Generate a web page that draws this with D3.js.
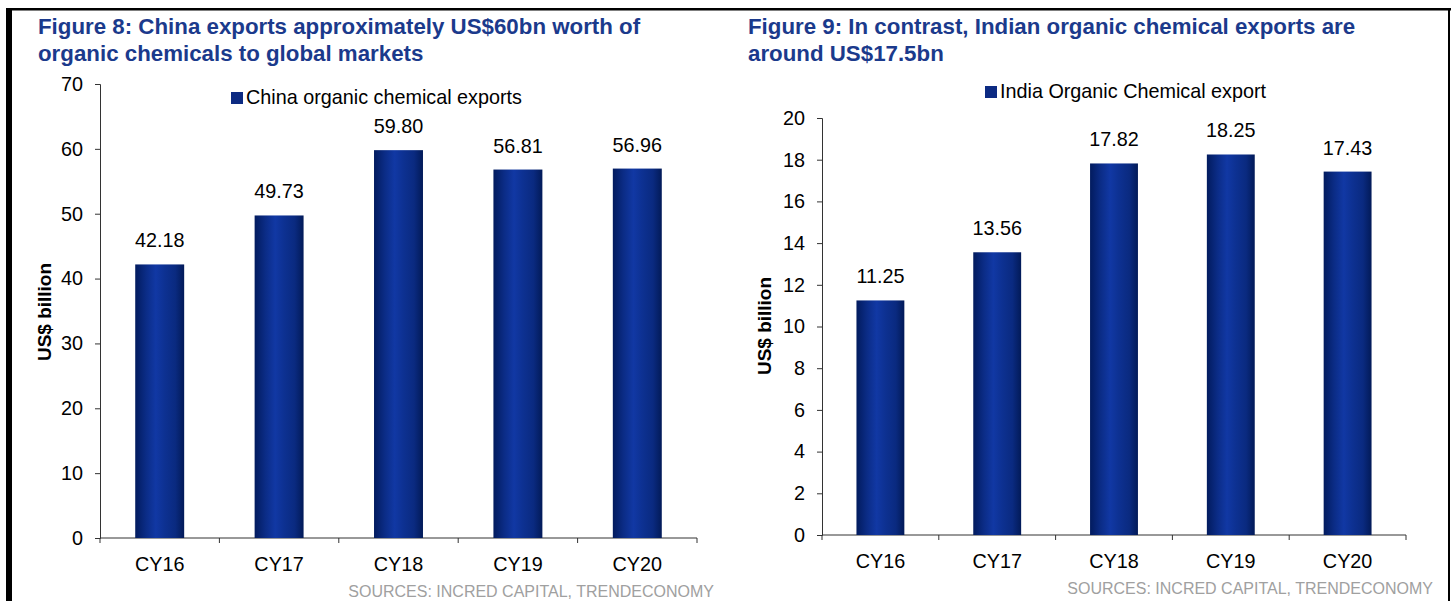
<!DOCTYPE html>
<html>
<head>
<meta charset="utf-8">
<script src="https://cdn.jsdelivr.net/npm/d3@7"></script>
<style>
  html, body { margin: 0; padding: 0; background: #fff; }
  svg { display: block; font-family: "Liberation Sans", Arial, sans-serif; }
</style>
</head>
<body>
<div id="chart"></div>
<script>
// data
const categories = ['CY16', 'CY17', 'CY18', 'CY19', 'CY20'];
const chinaValues = [42.18, 49.73, 59.80, 56.81, 56.96];
const indiaValues = [11.25, 13.56, 17.82, 18.25, 17.43];
const chinaTicks = [0, 10, 20, 30, 40, 50, 60, 70];
const indiaTicks = [0, 2, 4, 6, 8, 10, 12, 14, 16, 18, 20];

const width = 1454;
const height = 601;
const titleBlue = '#1b3a8c';

const svg = d3.select('#chart').append('svg')
  .attr('width', width)
  .attr('height', height);

// bar shading, dark edges with lighter middle
const grad = svg.append('defs').append('linearGradient')
  .attr('id', 'barGrad')
  .attr('x1', '0%').attr('x2', '100%').attr('y1', '0%').attr('y2', '0%');
[[0, '#021b5e'], [0.22, '#0b2c86'], [0.42, '#1138a4'], [0.6, '#0d3192'], [0.82, '#0a2a80'], [1, '#021a58']]
  .forEach(([o, c]) => grad.append('stop').attr('offset', o).attr('stop-color', c));

// frame
svg.append('rect').attr('x', 6).attr('y', 8).attr('width', 6).attr('height', height).attr('fill', '#000');
svg.append('rect').attr('x', 6).attr('y', 8).attr('width', 1445).attr('height', 2.5).attr('fill', '#000');
svg.append('rect').attr('x', 1448).attr('y', 8).attr('width', 2).attr('height', height).attr('fill', '#000');

function drawChart(cfg) {
  const g = svg.append('g');

  g.selectAll('text.title')
    .data(cfg.title)
    .enter().append('text')
    .attr('x', cfg.titleX)
    .attr('y', (d, i) => 34 + i * 27)
    .attr('fill', titleBlue)
    .attr('font-size', 22.3)
    .attr('font-weight', 'bold')
    .text(d => d);

  const x = d3.scaleBand()
    .domain(categories)
    .range([cfg.left, cfg.right])
    .paddingInner(0.59)
    .paddingOuter(0.295);

  const y = d3.scaleLinear()
    .domain(cfg.domain)
    .range([cfg.bottom, cfg.top]);

  // y axis
  const yAxis = g.append('g')
    .attr('transform', `translate(${cfg.left},0)`)
    .call(d3.axisLeft(y).tickValues(cfg.ticks).tickSize(5).tickPadding(12));
  yAxis.select('.domain').attr('stroke', '#333');
  yAxis.selectAll('.tick line').attr('stroke', '#333');
  yAxis.selectAll('.tick text').attr('font-size', 19.8).attr('fill', '#000')
    .attr('font-family', '"Liberation Sans", Arial, sans-serif');

  // x axis with ticks between categories
  const bounds = d3.range(categories.length + 1).map(i => cfg.left + i * x.step());
  g.append('line')
    .attr('x1', cfg.left).attr('x2', cfg.right)
    .attr('y1', cfg.bottom).attr('y2', cfg.bottom)
    .attr('stroke', '#333');
  g.selectAll('line.xt')
    .data(bounds)
    .enter().append('line')
    .attr('x1', d => d).attr('x2', d => d)
    .attr('y1', cfg.bottom).attr('y2', cfg.bottom + 5)
    .attr('stroke', '#333');
  g.selectAll('text.xl')
    .data(categories)
    .enter().append('text')
    .attr('x', d => x(d) + x.bandwidth() / 2)
    .attr('y', cfg.bottom + 33)
    .attr('text-anchor', 'middle')
    .attr('font-size', 19.8)
    .text(d => d);

  // bars
  g.selectAll('rect.bar')
    .data(cfg.values)
    .enter().append('rect')
    .attr('x', (d, i) => x(categories[i]))
    .attr('y', d => y(d))
    .attr('width', x.bandwidth())
    .attr('height', d => cfg.bottom - y(d))
    .attr('fill', 'url(#barGrad)');

  g.selectAll('text.val')
    .data(cfg.values)
    .enter().append('text')
    .attr('x', (d, i) => x(categories[i]) + x.bandwidth() / 2)
    .attr('y', d => y(d) - 17)
    .attr('text-anchor', 'middle')
    .attr('font-size', 19.8)
    .text(d => d.toFixed(2));

  // legend
  g.append('rect')
    .attr('x', cfg.legendX).attr('y', cfg.legendY - 12)
    .attr('width', 12).attr('height', 12)
    .attr('fill', '#0c2a82');
  g.append('text')
    .attr('x', cfg.legendX + 15).attr('y', cfg.legendY)
    .attr('font-size', 19.8)
    .text(cfg.legend);

  // y label
  g.append('text')
    .attr('transform', `translate(${cfg.yLabelX},${cfg.yLabelY}) rotate(-90)`)
    .attr('text-anchor', 'middle')
    .attr('font-size', 19)
    .attr('font-weight', 'bold')
    .text('US$ billion');

  // source
  g.append('text')
    .attr('x', cfg.sourceX).attr('y', cfg.sourceY)
    .attr('text-anchor', 'end')
    .attr('font-size', 16)
    .attr('fill', '#a0a0a0')
    .text('SOURCES: INCRED CAPITAL, TRENDECONOMY');
}

drawChart({
  title: ['Figure 8: China exports approximately US$60bn worth of', 'organic chemicals to global markets'],
  titleX: 38,
  values: chinaValues,
  ticks: chinaTicks,
  domain: [0, 70],
  left: 100, right: 697, top: 84, bottom: 538,
  legend: 'China organic chemical exports',
  legendX: 231, legendY: 104,
  yLabelX: 51, yLabelY: 312,
  sourceX: 714, sourceY: 597
});

drawChart({
  title: ['Figure 9: In contrast, Indian organic chemical exports are', 'around US$17.5bn'],
  titleX: 748,
  values: indiaValues,
  ticks: indiaTicks,
  domain: [0, 20],
  left: 822, right: 1406, top: 118, bottom: 535,
  legend: 'India Organic Chemical export',
  legendX: 985, legendY: 98,
  yLabelX: 771, yLabelY: 326,
  sourceX: 1433, sourceY: 594
});
</script>
</body>
</html>
